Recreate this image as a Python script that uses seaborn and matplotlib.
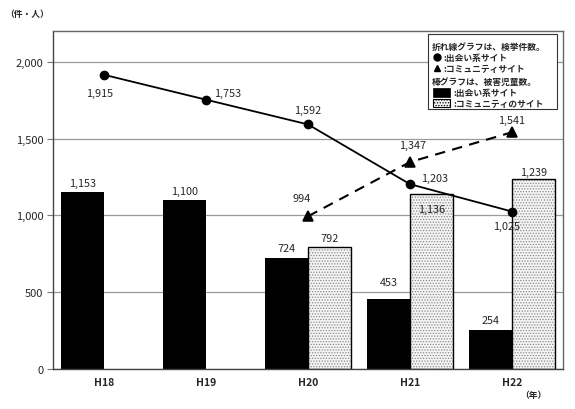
import numpy as np
import pandas as pd
import matplotlib
matplotlib.use('Agg')
import matplotlib.pyplot as plt
from matplotlib.patches import Rectangle
from matplotlib.lines import Line2D
import seaborn as sns

# 年 / 検挙件数（折れ線） / 被害児童数（棒）
years = ['H18', 'H19', 'H20', 'H21', 'H22']
comm_years = ['H20', 'H21', 'H22']
arrests_deai = [1915, 1753, 1592, 1203, 1025]
arrests_comm = [994, 1347, 1541]
victims_deai = [1153, 1100, 724, 453, 254]
victims_comm = [792, 1136, 1239]
yticks = [0, 500, 1000, 1500, 2000]

sns.set_style('white')
plt.rcParams['font.family'] = ['Noto Sans CJK JP', 'DejaVu Sans']
plt.rcParams['hatch.linewidth'] = 0.6

W, H = 575, 410
fig = plt.figure(figsize=(W / 100, H / 100), dpi=100)
ax = fig.add_axes([53 / W, 40 / H, 510 / W, 338 / H])


def fx(x):
    return x / W


def fy(y):
    return 1 - y / H


bars = pd.DataFrame({
    'year': years + comm_years,
    'count': victims_deai + victims_comm,
    'site': ['deai'] * len(years) + ['comm'] * len(comm_years),
})
sns.barplot(data=bars, x='year', y='count', hue='site', order=years,
            hue_order=['deai', 'comm'],
            palette={'deai': 'black', 'comm': '#f4f4f4'},
            width=0.84, saturation=1, legend=False, ax=ax,
            edgecolor='black', linewidth=0)

# dotted bars: hatch in gray, outline in black
for p in ax.containers[1]:
    p.set_hatch('......')
    p.set_edgecolor('#8a8a8a')
    p.set_linewidth(0)
    ax.add_patch(Rectangle(p.get_xy(), p.get_width(), p.get_height(),
                           fill=False, edgecolor='black', lw=1.0, zorder=2))

n0 = len(ax.lines)
sns.pointplot(x=years, y=arrests_deai, order=years, color='black',
              markers='o', linestyles='-', errorbar=None, ax=ax,
              markersize=6, linewidth=1.3)
sns.pointplot(x=comm_years, y=arrests_comm, order=years, color='black',
              markers='^', linestyles='--', errorbar=None, ax=ax,
              markersize=7, linewidth=1.5)
for ln in ax.lines[n0:]:
    ln.set_zorder(4)
ax.lines[-1].set_dashes([5, 3.5])

ax.set_xlim(-0.5, 4.5)
ax.set_ylim(0, 2200)
ax.set_yticks(yticks)
ax.set_yticklabels([f'{v:,}' for v in yticks], fontsize=8)
ax.set_xlabel('')
ax.set_ylabel('')
ax.tick_params(axis='x', length=0, pad=6)
ax.tick_params(axis='y', length=4, width=0.8, color='#777', direction='out',
               left=True, pad=3)
for t in ax.get_xticklabels():
    t.set_fontsize(7.5)
    t.set_fontweight('bold')
ax.grid(axis='y', color='#9a9a9a', lw=0.9)
ax.set_axisbelow(True)
for s in ax.spines.values():
    s.set_color('#666')
    s.set_linewidth(1.0)
ax.spines['left'].set_color('#444')
ax.spines['bottom'].set_color('#444')

# bar labels (offsets in pixels, y up)
off_deai = [9, 9, 9.5, 17, 10]
off_comm = [9, -15, 7]
for bar, v, dy in zip(ax.containers[0], victims_deai, off_deai):
    ax.annotate(f'{v:,}', (bar.get_x() + bar.get_width() / 2, bar.get_height()),
                xytext=(0, dy), textcoords='offset pixels',
                ha='center', va='center', fontsize=7.8, zorder=6)
for bar, v, dy in zip(ax.containers[1], victims_comm, off_comm):
    ax.annotate(f'{v:,}', (bar.get_x() + bar.get_width() / 2, bar.get_height()),
                xytext=(0, dy), textcoords='offset pixels',
                ha='center', va='center', fontsize=7.8, zorder=6)

# line labels
off_line_deai = [(-4, -18), (22, 7), (0, 14), (25, 6), (-5, -14)]
off_line_comm = [(-6, 18), (3, 17), (0, 12)]
for i, (v, o) in enumerate(zip(arrests_deai, off_line_deai)):
    ax.annotate(f'{v:,}', (i, v), xytext=o,
                textcoords='offset pixels', ha='center', va='center',
                fontsize=7.8, zorder=6)
for y, v, o in zip(comm_years, arrests_comm, off_line_comm):
    ax.annotate(f'{v:,}', (years.index(y), v), xytext=o,
                textcoords='offset pixels', ha='center', va='center',
                fontsize=7.8, zorder=6)

fig.text(fx(5), fy(14), '（件・人）', fontsize=6.3, va='center', ha='left',
         fontweight='bold')
fig.text(fx(520), fy(396), '（年）', fontsize=6.3, va='center', ha='left',
         fontweight='bold')

# legend box
fig.add_artist(Rectangle((fx(428), fy(110)), 129 / W, 75 / H,
                         transform=fig.transFigure, facecolor='white',
                         edgecolor='#333', lw=0.8, zorder=5))
lfs = 6.3
lkw = dict(fontsize=lfs, va='center', zorder=6, fontweight='bold')
fig.text(fx(432), fy(47), '折れ線グラフは、検挙件数。', **lkw)
fig.add_artist(Line2D([fx(437)], [fy(57.5)], marker='o', color='black',
                      markersize=5, transform=fig.transFigure, zorder=6))
fig.text(fx(443), fy(58), ':出会い系サイト', **lkw)
fig.add_artist(Line2D([fx(437)], [fy(69)], marker='^', color='black',
                      markersize=5, transform=fig.transFigure, zorder=6))
fig.text(fx(443), fy(69.5), ':コミュニティサイト', **lkw)
fig.text(fx(432), fy(82), '棒グラフは、被害児童数。', **lkw)
fig.add_artist(Rectangle((fx(433), fy(98)), 17 / W, 9 / H, transform=fig.transFigure,
                         facecolor='black', edgecolor='black', lw=0.5, zorder=6))
fig.text(fx(453), fy(93.5), ':出会い系サイト', **lkw)
fig.add_artist(Rectangle((fx(433), fy(108)), 17 / W, 8 / H, transform=fig.transFigure,
                         facecolor='#f4f4f4', edgecolor='black', lw=0.8,
                         hatch='......', zorder=6))
fig.text(fx(453), fy(104), ':コミュニティのサイト', **lkw)

fig.savefig('out.png', dpi=100)
